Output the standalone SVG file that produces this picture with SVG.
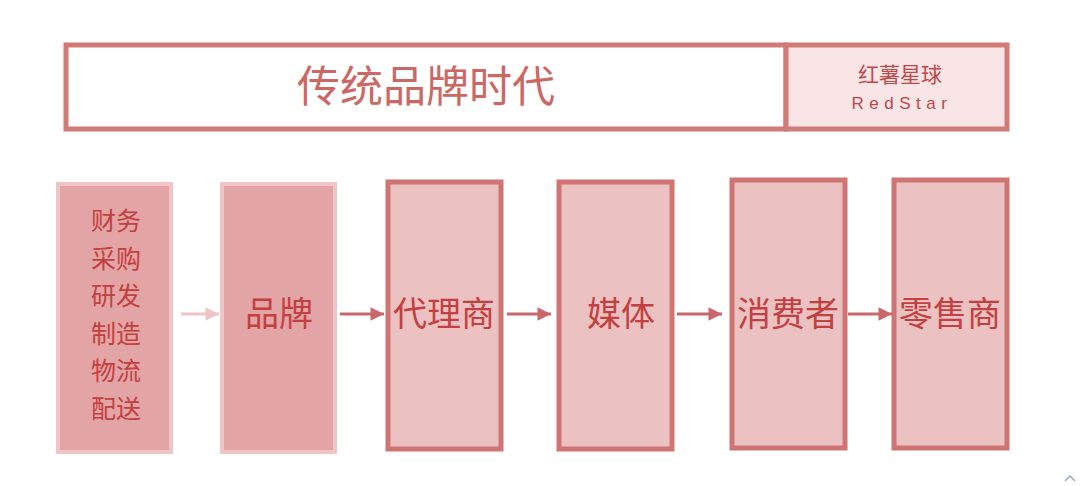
<svg xmlns="http://www.w3.org/2000/svg" width="1080" height="486" viewBox="0 0 1080 486">
<style>
.cjk{font-family:"Noto Sans CJK SC","Noto Sans",sans-serif;}
.lbl{fill:#c43f40;font-size:34px;text-anchor:middle;dominant-baseline:central;}
.col{fill:#c43f40;font-size:25px;text-anchor:middle;dominant-baseline:central;}
.soft{fill:#e3a4a6;stroke:#efc5c7;stroke-width:4;}
.hard{fill:#ebc1c2;stroke:#cf7472;stroke-width:5;}
.conn{stroke:#c9686a;stroke-width:3;fill:none;}
</style>
<defs>
<marker id="ah" viewBox="0 0 10 10" refX="10" refY="5" markerWidth="5" markerHeight="4.5" markerUnits="strokeWidth" orient="auto"><path d="M0,0L10,5L0,10z" fill="#c9686a"/></marker>
<marker id="ahl" viewBox="0 0 10 10" refX="10" refY="5" markerWidth="5" markerHeight="4.5" markerUnits="strokeWidth" orient="auto"><path d="M0,0L10,5L0,10z" fill="#f0c4c6"/></marker>
</defs>
<rect width="1080" height="486" fill="#ffffff"/>
<g id="banner">
<rect x="66" y="45" width="720" height="84" fill="#ffffff" stroke="#d07b77" stroke-width="5"/>
<rect x="786" y="45" width="221" height="84" fill="#f9e5e5" stroke="#d07b77" stroke-width="5"/>
<text class="cjk" x="426" y="83" font-size="43" fill="#cc6864" text-anchor="middle" dominant-baseline="central">传统品牌时代</text>
<text class="cjk" x="900" y="73" font-size="21" fill="#c0474a" text-anchor="middle" dominant-baseline="central">红薯星球</text>
<text x="902" y="103" font-family="Liberation Sans, sans-serif" font-size="17" fill="#c0474a" text-anchor="middle" dominant-baseline="central" letter-spacing="5.5">RedStar</text>
</g>
<g id="n-functions">
<rect class="soft" x="58" y="184" width="113" height="268"/>
<text class="cjk col" x="116" y="219">财务</text>
<text class="cjk col" x="116" y="257">采购</text>
<text class="cjk col" x="116" y="294">研发</text>
<text class="cjk col" x="116" y="332">制造</text>
<text class="cjk col" x="116" y="369">物流</text>
<text class="cjk col" x="116" y="407">配送</text>
</g>
<g id="n-brand">
<rect class="soft" x="222" y="184" width="113" height="268"/>
<text class="cjk lbl" x="279" y="311">品牌</text>
</g>
<g id="n-agent">
<rect class="hard" x="388" y="182" width="113" height="267"/>
<text class="cjk lbl" x="444" y="311">代理商</text>
</g>
<g id="n-media">
<rect class="hard" x="559" y="182" width="113" height="267"/>
<text class="cjk lbl" x="621" y="311">媒体</text>
</g>
<g id="n-consumer">
<rect class="hard" x="732" y="180" width="113" height="268"/>
<text class="cjk lbl" x="788" y="311">消费者</text>
</g>
<g id="n-retailer">
<rect class="hard" x="894" y="180" width="113" height="268"/>
<text class="cjk lbl" x="950" y="311">零售商</text>
</g>
<g id="connectors">
<line x1="181" y1="314" x2="219" y2="314" stroke="#f0c4c6" stroke-width="3" marker-end="url(#ahl)"/>
<line class="conn" x1="340" y1="314" x2="384" y2="314" marker-end="url(#ah)"/>
<line class="conn" x1="507" y1="314" x2="551" y2="314" marker-end="url(#ah)"/>
<line class="conn" x1="677" y1="314" x2="722" y2="314" marker-end="url(#ah)"/>
<line class="conn" x1="848" y1="314" x2="892" y2="314" marker-end="url(#ah)"/>
</g>
<polyline points="1065,481 1070,476 1075,481" fill="none" stroke="#8ea2c4" stroke-width="1.3"/>
</svg>
